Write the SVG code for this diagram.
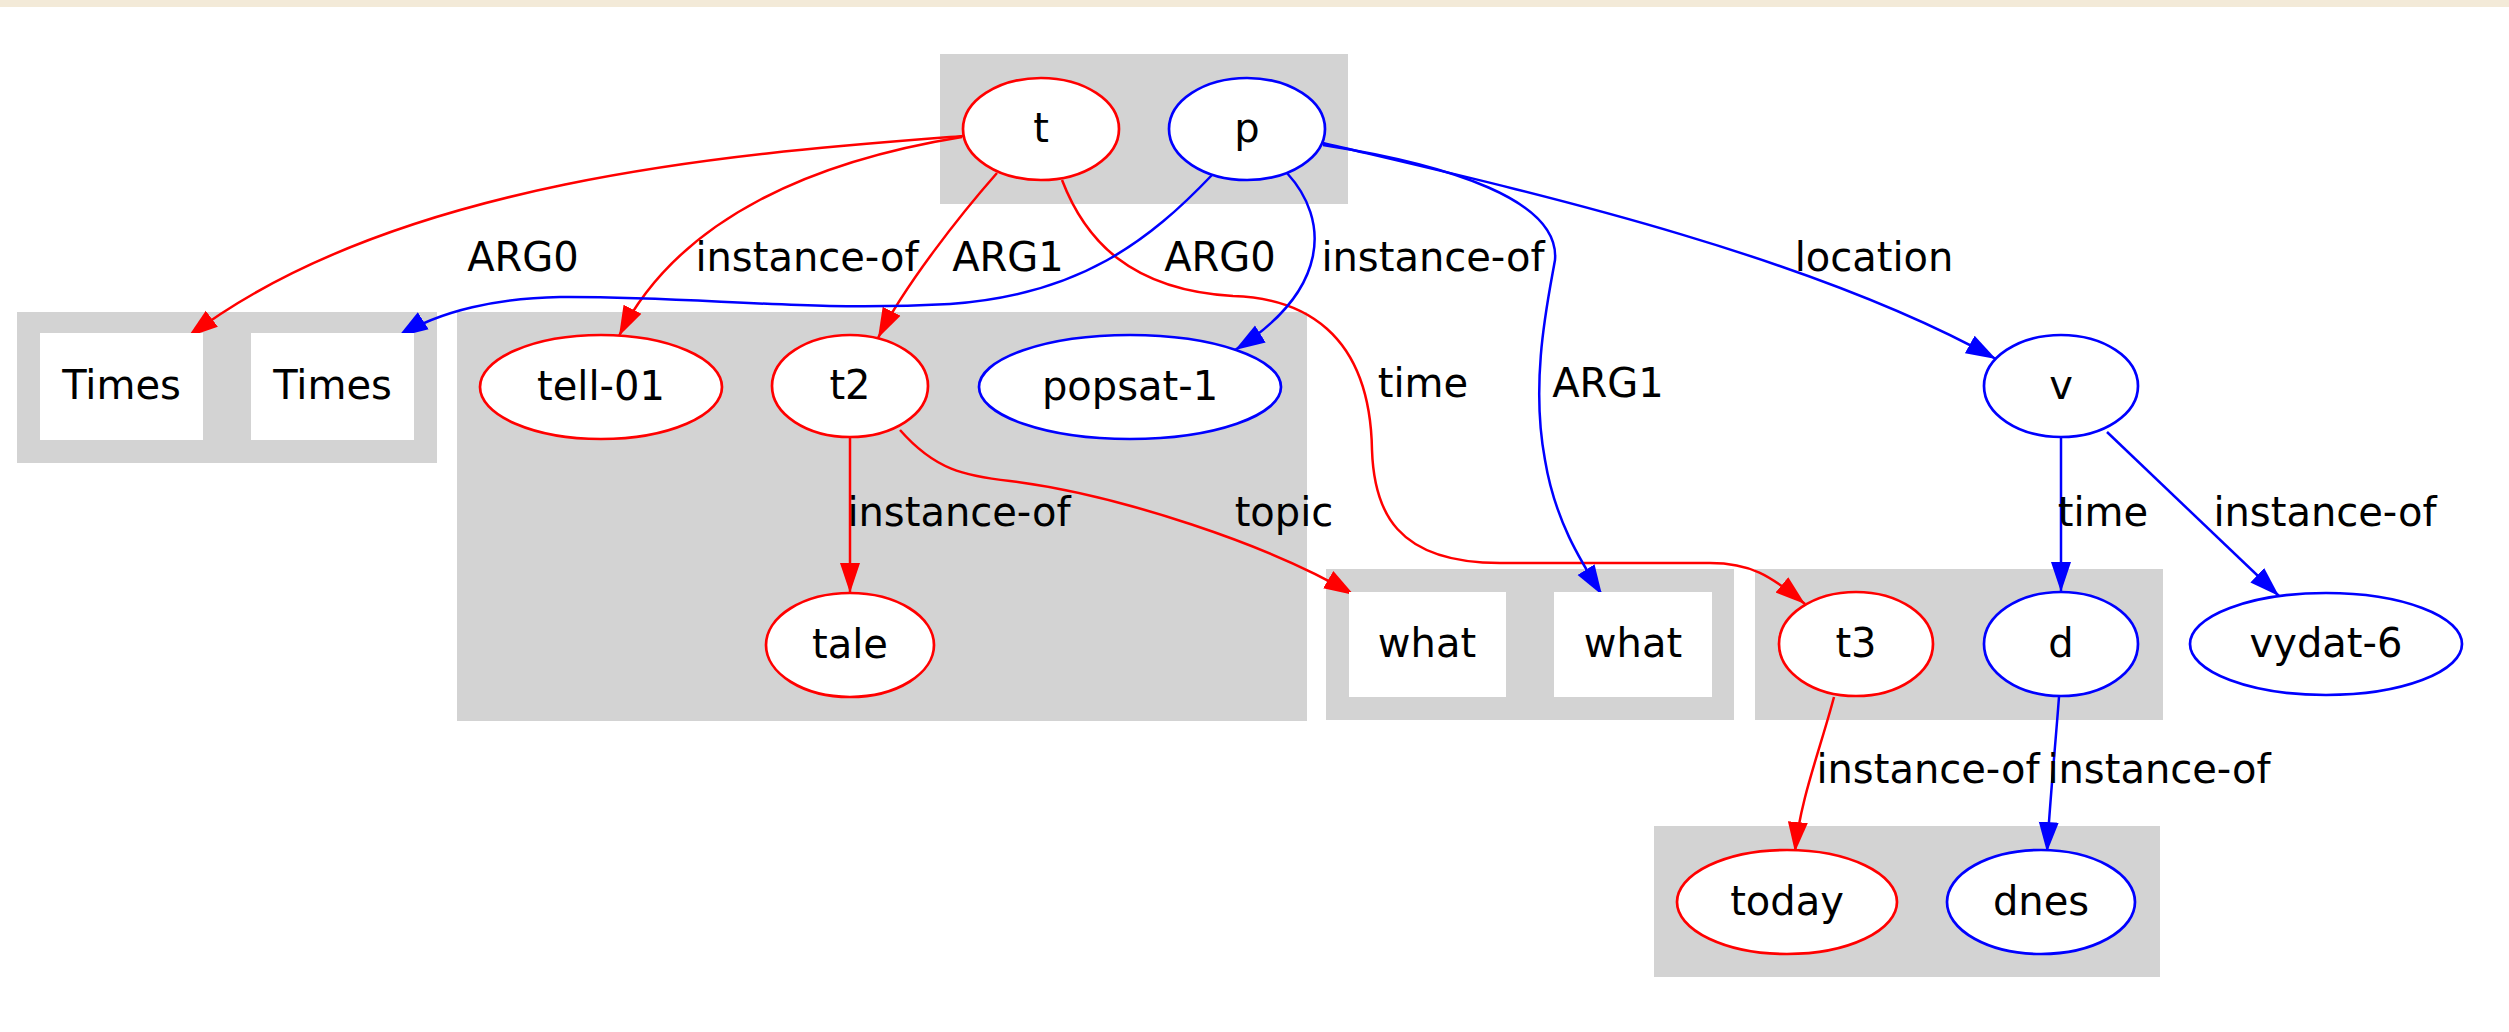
<svg xmlns="http://www.w3.org/2000/svg" width="2509" height="1032" viewBox="0 0 2509 1032">
<defs>
<style>
text{font-family:"DejaVu Sans","Liberation Sans",sans-serif;font-size:40px;fill:#000;text-anchor:middle}
.cl{fill:#d3d3d3}
.box{fill:#fff}
.nr{fill:#fff;stroke:#ff0000;stroke-width:2.7}
.nb{fill:#fff;stroke:#0000ff;stroke-width:2.7}
.er{fill:none;stroke:#ff0000;stroke-width:2.5;marker-end:url(#ar)}
.eb{fill:none;stroke:#0000ff;stroke-width:2.5;marker-end:url(#ab)}
</style>
<marker id="ar" markerUnits="userSpaceOnUse" markerWidth="31" markerHeight="22" refX="30" refY="11" orient="auto" viewBox="0 0 31 22"><path d="M0,1 L30,11 L0,21 z" fill="#ff0000"/></marker>
<marker id="ab" markerUnits="userSpaceOnUse" markerWidth="31" markerHeight="22" refX="30" refY="11" orient="auto" viewBox="0 0 31 22"><path d="M0,1 L30,11 L0,21 z" fill="#0000ff"/></marker>
</defs>
<rect x="0" y="0" width="2509" height="1032" fill="#ffffff"/>
<rect x="0" y="0" width="2509" height="7" fill="#f3ead8"/>

<g id="clusters">
<rect class="cl" x="940" y="54" width="408" height="150"/>
<rect class="cl" x="17" y="312" width="420" height="151"/>
<rect class="cl" x="457" y="312" width="850" height="409"/>
<rect class="cl" x="1326" y="569" width="408" height="151"/>
<rect class="cl" x="1755" y="569" width="408" height="151"/>
<rect class="cl" x="1654" y="826" width="506" height="151"/>
</g>

<g id="connectors">
<path class="er" d="M964,136 C760,152 400,175 188,337"/>
<path class="er" d="M962,137 C820,160 680,215 619,336"/>
<path class="er" d="M997,173 C960,215 905,285 878,338"/>
<path class="er" d="M1062,180 C1085,240 1130,290 1233,296 C1300,298 1370,330 1372,450 C1374,510 1395,563 1500,563 L1710,563 C1750,563 1770,575 1805,604"/>
<path class="er" d="M850,437 L850,593"/>
<path class="er" d="M900,430 C935,470 965,476 1010,481 C1120,495 1270,545 1354,595"/>
<path class="eb" d="M1212,175 C1150,240 1080,295 950,304 C800,312 700,296 560,297 C500,298 440,310 398,337"/>
<path class="eb" d="M1287,173 C1330,220 1330,290 1235,350"/>
<path class="eb" d="M1323,145 C1450,165 1560,200 1555,260 C1548,300 1530,380 1545,460 C1555,520 1580,560 1602,595"/>
<path class="eb" d="M1323,143 C1500,185 1800,250 1996,359"/>
<path class="eb" d="M2061,438 L2061,592"/>
<path class="eb" d="M2107,432 L2279,596"/>
<path class="er" d="M1834,697 C1820,750 1800,800 1795,852"/>
<path class="eb" d="M2059,697 C2055,750 2050,800 2047,852"/>
<text x="523" y="271">ARG0</text>
<text x="807" y="271">instance-of</text>
<text x="1008" y="271">ARG1</text>
<text x="1220" y="271">ARG0</text>
<text x="1433" y="271">instance-of</text>
<text x="1874" y="271">location</text>
<text x="1423" y="397">time</text>
<text x="1608" y="397">ARG1</text>
<text x="959" y="526">instance-of</text>
<text x="1284" y="526">topic</text>
<text x="2103" y="526">time</text>
<text x="2325" y="526">instance-of</text>
<text x="1928" y="783">instance-of</text>
<text x="2159" y="783">instance-of</text>
</g>

<g id="node-t"><ellipse class="nr" cx="1041" cy="129" rx="78" ry="51"/><text x="1041" y="142">t</text></g>
<g id="node-p"><ellipse class="nb" cx="1247" cy="129" rx="78" ry="51"/><text x="1247" y="142">p</text></g>
<g id="node-times1"><rect class="box" x="40" y="333" width="163" height="107"/><text x="121.5" y="399">Times</text></g>
<g id="node-times2"><rect class="box" x="251" y="333" width="163" height="107"/><text x="332.5" y="399">Times</text></g>
<g id="node-tell-01"><ellipse class="nr" cx="601" cy="387" rx="121" ry="52"/><text x="601" y="400">tell-01</text></g>
<g id="node-t2"><ellipse class="nr" cx="850" cy="386" rx="78" ry="51"/><text x="850" y="399">t2</text></g>
<g id="node-popsat-1"><ellipse class="nb" cx="1130" cy="387" rx="151" ry="52"/><text x="1130" y="400">popsat-1</text></g>
<g id="node-tale"><ellipse class="nr" cx="850" cy="645" rx="84" ry="52"/><text x="850" y="658">tale</text></g>
<g id="node-what1"><rect class="box" x="1349" y="592" width="157" height="105"/><text x="1427" y="657">what</text></g>
<g id="node-what2"><rect class="box" x="1554" y="592" width="158" height="105"/><text x="1633" y="657">what</text></g>
<g id="node-t3"><ellipse class="nr" cx="1856" cy="644" rx="77" ry="52"/><text x="1856" y="657">t3</text></g>
<g id="node-d"><ellipse class="nb" cx="2061" cy="644" rx="77" ry="52"/><text x="2061" y="657">d</text></g>
<g id="node-v"><ellipse class="nb" cx="2061" cy="386" rx="77" ry="51"/><text x="2061" y="399">v</text></g>
<g id="node-vydat-6"><ellipse class="nb" cx="2326" cy="644" rx="136" ry="51"/><text x="2326" y="657">vydat-6</text></g>
<g id="node-today"><ellipse class="nr" cx="1787" cy="902" rx="110" ry="52"/><text x="1787" y="915">today</text></g>
<g id="node-dnes"><ellipse class="nb" cx="2041" cy="902" rx="94" ry="52"/><text x="2041" y="915">dnes</text></g>
</svg>
